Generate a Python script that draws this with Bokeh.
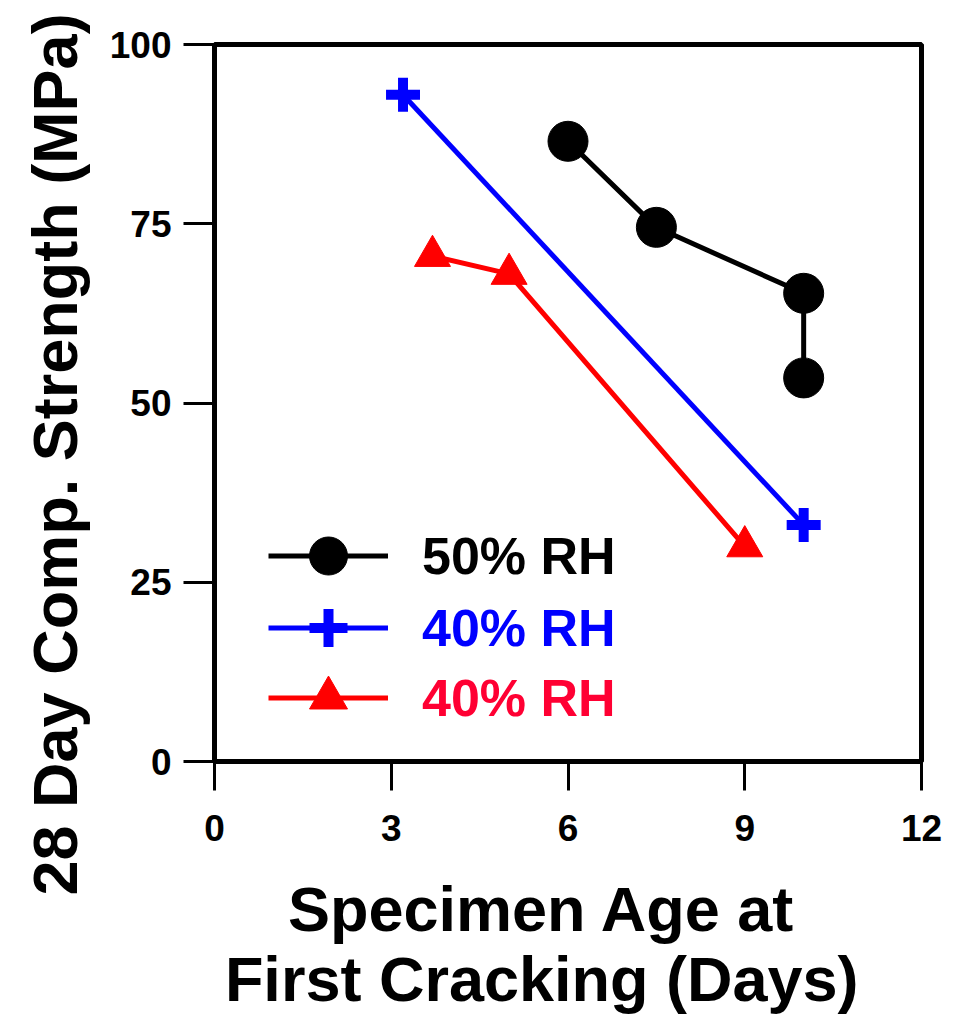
import math
from bokeh.plotting import figure
from bokeh.models import Range1d, FixedTicker, Legend, LegendItem, Title
from bokeh.embed import file_html
from bokeh.resources import INLINE

# data
age_50 = [6.0, 7.5, 10.0, 10.0]
str_50 = [86.5, 74.5, 65.3, 53.5]
age_40a = [3.2, 10.0]
str_40a = [93.0, 33.0]
age_40b = [3.7, 5.0, 9.0]
str_40b = [70.5, 68.0, 30.0]
x_ticks = [0, 3, 6, 9, 12]
y_ticks = [0, 25, 50, 75, 100]
legend_labels = ["50% RH", "40% RH", "40% RH"]

FONT = "Liberation Sans"
NB = "\u00a0"

p = figure(width=964, height=1019, output_backend="svg", toolbar_location=None,
           x_range=Range1d(0, 12), y_range=Range1d(0, 100),
           min_border_left=213, min_border_right=43, min_border_top=44, min_border_bottom=258)
p.grid.visible = False
p.outline_line_color = "black"
p.outline_line_width = 5
p.background_fill_color = "white"
p.border_fill_color = "white"

for ax, ticks in ((p.xaxis, x_ticks), (p.yaxis, y_ticks)):
    ax.ticker = FixedTicker(ticks=ticks)
    ax.axis_line_width = 5
    ax.axis_line_color = "black"
    ax.major_tick_line_width = 3
    ax.major_tick_line_color = "black"
    ax.major_tick_in = 0
    ax.minor_tick_line_color = None
    ax.major_label_text_font = FONT
    ax.major_label_text_font_style = "bold"
    ax.major_label_text_font_size = "37px"
    ax.major_label_text_color = "black"
    ax.axis_label_text_font = FONT
    ax.axis_label_text_font_style = "bold"
    ax.axis_label_text_font_size = "63px"
    ax.axis_label_text_color = "black"
    ax.axis_label_text_line_height = 1.0
p.xaxis.major_tick_out = 29
p.yaxis.major_tick_out = 31
p.xaxis.major_label_standoff = 24
p.yaxis.major_label_standoff = 12
p.xaxis.axis_label = "Specimen Age at" + NB * 3 + "\nFirst Cracking (Days)" + NB * 3
p.xaxis.axis_label_standoff = 30

ytitle = Title(text="28 Day Comp. Strength (MPa)", align="left", offset=-134,
               text_font=FONT, text_font_style="bold", text_font_size="63px",
               text_color="black", standoff=34)
p.add_layout(ytitle, "left")

r1 = p.line(age_50, str_50, line_color="black", line_width=5)
m1 = p.scatter(age_50, str_50, marker="circle", size=40, fill_color="black", line_color="black")
r2 = p.line(age_40a, str_40a, line_color="#0000FF", line_width=5)
m2 = p.scatter(age_40a, str_40a, marker="cross", size=34, line_color="#0000FF", line_width=10)
r3 = p.line(age_40b, str_40b, line_color="#FF0000", line_width=5)
m3 = p.scatter(age_40b, str_40b, marker="triangle", size=36, fill_color="#FF0000", line_color="#FF0000")

text_colors = ["black", "#0000FF", "#FF0033"]
renders = [(r1, m1), (r2, m2), (r3, m3)]
bottoms = [158, 86, 16]
for lab, col, rr, b in zip(legend_labels, text_colors, renders, bottoms):
    lg = Legend(items=[LegendItem(label=lab, renderers=list(rr))],
                location=(54, b), margin=0, padding=0,
                glyph_width=120, glyph_height=95, label_height=95, label_standoff=34,
                label_text_font=FONT, label_text_font_style="bold",
                label_text_font_size="52px", label_text_color=col,
                border_line_color=None, background_fill_alpha=0)
    p.add_layout(lg, "center")

open("out.html", "w").write(file_html(p, INLINE))
